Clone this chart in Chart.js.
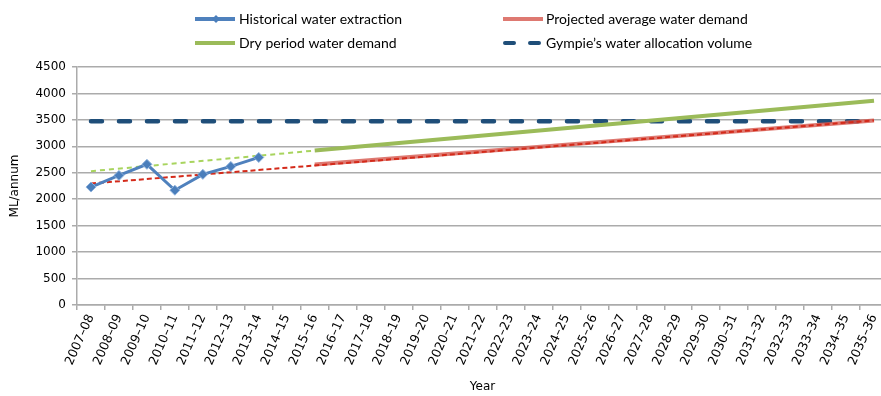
<!DOCTYPE html>
<html>
<head>
<meta charset="utf-8">
<script src="https://cdn.jsdelivr.net/npm/chart.js@4.4.1/dist/chart.umd.min.js"></script>
<style>
    html, body { margin: 0; padding: 0; background: #fff; overflow: hidden; }
    #wrap { position: relative; width: 895px; height: 396px; }
</style>
</head>
<body>
<div id="wrap"><canvas id="waterChart" width="895" height="396"></canvas></div>
<script>
// Categories (financial years)
const years = ['2007–08', '2008–09', '2009–10', '2010–11', '2011–12', '2012–13', '2013–14',
    '2014–15', '2015–16', '2016–17', '2017–18', '2018–19', '2019–20', '2020–21', '2021–22',
    '2022–23', '2023–24', '2024–25', '2025–26', '2026–27', '2027–28', '2028–29', '2029–30',
    '2030–31', '2031–32', '2032–33', '2033–34', '2034–35', '2035–36'];

// ML/annum
const historicalExtraction = [2230, 2450, 2660, 2170, 2470, 2620, 2790];
// straight lines: only their end points are given, the gaps are spanned
const projectedAverage = [null, null, null, null, null, null, null, null, 2655,
    null, null, null, null, null, null, null, null, null, null, null,
    null, null, null, null, null, null, null, null, 3490];
const dryPeriod = [null, null, null, null, null, null, null, null, 2920,
    null, null, null, null, null, null, null, null, null, null, null,
    null, null, null, null, null, null, null, null, 3860];
const allocationVolume = [3475, null, null, null, null, null, null, null, null,
    null, null, null, null, null, null, null, null, null, null, null,
    null, null, null, null, null, null, null, null, 3475];
// dashed trend lines
const averageTrend = [2297, null, null, null, null, null, null, null, null,
    null, null, null, null, null, null, null, null, null, null, null,
    null, null, null, null, null, null, null, null, 3490];
const dryTrend = [2530, null, null, null, null, null, null, null, 2920];

const yTicks = { min: 0, max: 4500, step: 500 };

const gridColor = '#ababab';
const tickFont = { family: 'DejaVu Sans', size: 12 };
const xTickFont = { family: 'DejaVu Sans', size: 12.5 };
const legendFont = '14px Lato';

//Draws the two-column legend at the top of the chart.
const legendPlugin = {
    id: 'twoColumnLegend',
    afterDraw(chart) {
        const ctx = chart.ctx;
        const items = [
            { ds: 0, x: 195, y: 19, text: 239 },
            { ds: 1, x: 503, y: 19, text: 546 },
            { ds: 2, x: 195, y: 43, text: 239 },
            { ds: 3, x: 503, y: 43, text: 546 }
        ];
        ctx.save();
        items.forEach(function (item) {
            const ds = chart.data.datasets[item.ds];
            ctx.strokeStyle = ds.borderColor;
            ctx.lineWidth = 4;
            ctx.lineCap = ds.borderCapStyle || 'butt';
            ctx.setLineDash(ds.borderDash ? [9, 16] : []);
            ctx.beginPath();
            ctx.moveTo(item.x + (ds.borderDash ? 2 : 0), item.y);
            ctx.lineTo(item.x + 40, item.y);
            ctx.stroke();
            ctx.setLineDash([]);
            if (ds.pointStyle === 'rectRot') {
                ctx.fillStyle = ds.pointBackgroundColor;
                const cx = item.x + 21, r = 4;
                ctx.beginPath();
                ctx.moveTo(cx, item.y - r);
                ctx.lineTo(cx + r, item.y);
                ctx.lineTo(cx, item.y + r);
                ctx.lineTo(cx - r, item.y);
                ctx.closePath();
                ctx.fill();
            }
            ctx.fillStyle = '#000';
            ctx.font = legendFont;
            ctx.textBaseline = 'middle';
            ctx.fillText(ds.label, item.text, item.y);
        });
        ctx.restore();
    }
};

var waterChart = new Chart(document.getElementById('waterChart'), {
    type: 'line',
    data: {
        labels: years,
        datasets: [
            {
                label: 'Historical water extraction',
                data: historicalExtraction,
                borderColor: '#4f81bd',
                backgroundColor: '#4f81bd',
                borderWidth: 3,
                pointStyle: 'rectRot',
                pointRadius: 5,
                pointBackgroundColor: '#4a7ebb',
                pointBorderColor: '#8fb2dc',
                pointBorderWidth: 1,
                order: 0
            },
            {
                label: 'Projected average water demand',
                data: projectedAverage,
                borderColor: 'rgba(214, 88, 78, 0.8)',
                borderWidth: 4,
                spanGaps: true,
                pointRadius: 0,
                order: 3
            },
            {
                label: 'Dry period water demand',
                data: dryPeriod,
                borderColor: '#9bbb59',
                borderWidth: 4,
                spanGaps: true,
                pointRadius: 0,
                order: 4
            },
            {
                label: 'Gympie’s water allocation volume',
                data: allocationVolume,
                borderColor: '#1f4e79',
                borderWidth: 4.5,
                borderDash: [11, 17],
                borderCapStyle: 'round',
                spanGaps: true,
                pointRadius: 0,
                order: 5
            },
            {
                label: 'Average demand trend',
                data: averageTrend,
                borderColor: '#d42a1a',
                borderWidth: 2,
                borderDash: [5, 3],
                spanGaps: true,
                pointRadius: 0,
                order: 1
            },
            {
                label: 'Dry period trend',
                data: dryTrend,
                borderColor: '#a8d45e',
                borderWidth: 2,
                borderDash: [5, 4],
                spanGaps: true,
                pointRadius: 0,
                order: 2
            }
        ]
    },
    options: {
        animation: false,
        responsive: false,
        elements: { line: { tension: 0 } },
        layout: { padding: { top: 67, right: 7, left: 8, bottom: 0 } },
        scales: {
            x: {
                offset: true,
                grid: {
                    offset: true,
                    drawOnChartArea: false,
                    drawTicks: true,
                    tickLength: 5,
                    color: gridColor,
                    lineWidth: 1.5
                },
                border: { color: gridColor, width: 1.5 },
                ticks: {
                    autoSkip: false,
                    minRotation: 66,
                    maxRotation: 66,
                    color: '#000',
                    font: xTickFont,
                    padding: 2
                },
                title: {
                    display: true,
                    text: 'Year',
                    color: '#000',
                    font: tickFont,
                    padding: { top: 0, bottom: 2 }
                },
                afterFit: function (scale) { scale.height = 91; }
            },
            y: {
                min: yTicks.min,
                max: yTicks.max,
                grid: {
                    color: gridColor,
                    lineWidth: 1.5,
                    drawTicks: true,
                    tickLength: 5
                },
                border: { color: gridColor, width: 1.5 },
                ticks: {
                    stepSize: yTicks.step,
                    color: '#000',
                    font: tickFont,
                    padding: 6,
                    callback: function (value) { return String(value); }
                },
                title: {
                    display: true,
                    text: 'ML/annum',
                    color: '#000',
                    font: tickFont,
                    padding: { top: 0, bottom: 4 }
                },
                afterFit: function (scale) { scale.width = 69; }
            }
        },
        plugins: {
            legend: { display: false },
            tooltip: { enabled: false }
        }
    },
    plugins: [legendPlugin]
});
</script>
</body>
</html>
